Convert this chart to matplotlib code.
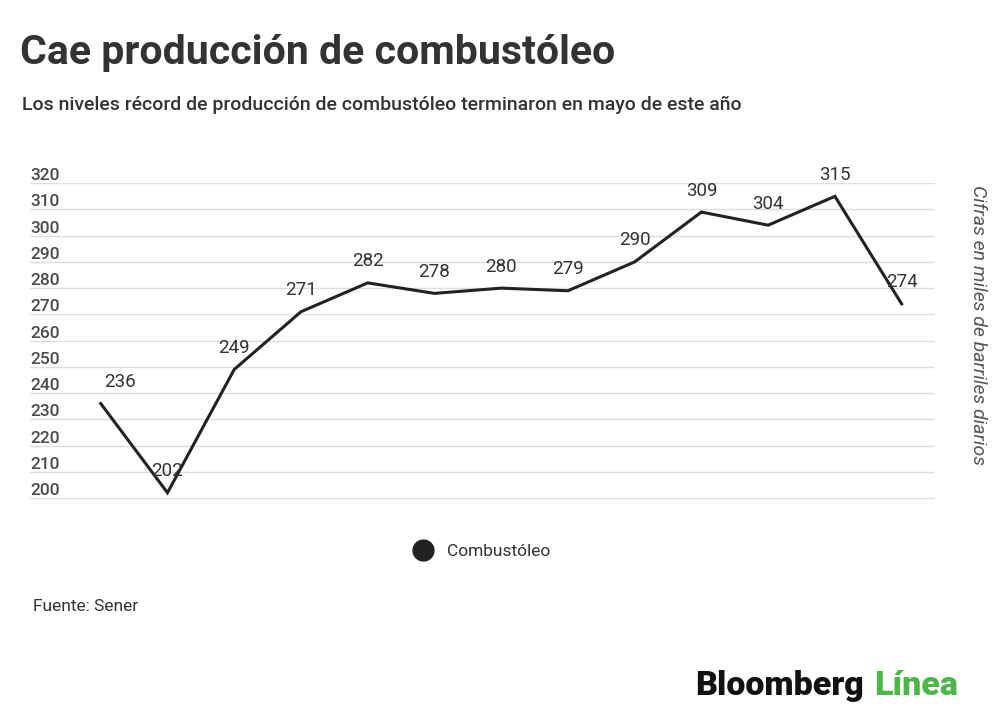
import matplotlib.pyplot as plt

# data
months = ['M1', 'M2', 'M3', 'M4', 'M5', 'M6', 'M7', 'M8', 'M9', 'M10', 'M11', 'M12', 'M13']
produccion = [236, 202, 249, 271, 282, 278, 280, 279, 290, 309, 304, 315, 274]
y_ticks = [200, 210, 220, 230, 240, 250, 260, 270, 280, 290, 300, 310, 320]

plt.rcParams['font.family'] = ['Roboto', 'DejaVu Sans']
TEXT = '#333333'

fig = plt.figure(figsize=(10, 7.27), dpi=100)
ax = fig.add_axes([0.030, 0.3114, 0.905, 0.4366])

x = list(range(len(months)))
ax.plot(x, produccion, color='#222222', lw=2.2, solid_joinstyle='miter', zorder=3)

# value labels above each point
for i, v in zip(x, produccion):
    dx = 14 if i == 0 else 0
    ax.annotate(str(v), (i, v), xytext=(dx, 9), textcoords='offset points',
                ha='center', va='bottom', fontsize=13.5, color=TEXT, zorder=4)

ax.set_xlim(-1.06, 12.5)
ax.set_ylim(199, 320)
ax.set_yticks(y_ticks)
ax.set_xticks([])
ax.grid(axis='y', color='#dddddd', lw=1)
ax.set_axisbelow(True)
for s in ax.spines.values():
    s.set_visible(False)
ax.tick_params(axis='y', length=0, labelsize=12.5, labelcolor='#4a4a4a', pad=0)
for lab in ax.get_yticklabels():
    lab.set_horizontalalignment('left')
    lab.set_verticalalignment('bottom')
    lab.set_fontweight('medium')
    lab.set_x(0.0)

# right axis title
fig.text(0.978, 0.553, 'Cifras en miles de barriles diarios', rotation=-90,
         ha='center', va='center', fontsize=14, style='italic', color='#555555')

# titles
fig.text(0.020, 0.927, 'Cae producción de combustóleo', fontsize=29.5, fontweight='bold',
         color=TEXT, ha='left', va='center')
fig.text(0.022, 0.856, 'Los niveles récord de producción de combustóleo terminaron en mayo de este año',
         fontsize=14, fontweight='medium', color=TEXT, ha='left', va='center')

# legend
fig.legend([plt.Line2D([0], [0], marker='o', color='none', markerfacecolor='#222222',
                       markeredgecolor='#222222', markersize=15)],
           ['Combustóleo'], loc='center', bbox_to_anchor=(0.478, 0.241),
           frameon=False, fontsize=12.5, handletextpad=0.4, labelcolor=TEXT)

# source
fig.text(0.033, 0.166, 'Fuente: Sener', fontsize=12.5, color=TEXT, ha='left', va='center')

# logo
t = fig.text(0.695, 0.057, 'Bloomberg', fontsize=24.5, fontweight='black',
             color='#111111', ha='left', va='center')
fig.canvas.draw()
bb = t.get_window_extent().transformed(fig.transFigure.inverted())
fig.text(bb.x1 + 0.010, 0.057, 'Línea', fontsize=24.5, fontweight='black',
         color='#4cb648', ha='left', va='center')

fig.savefig('out.png', dpi=100)
